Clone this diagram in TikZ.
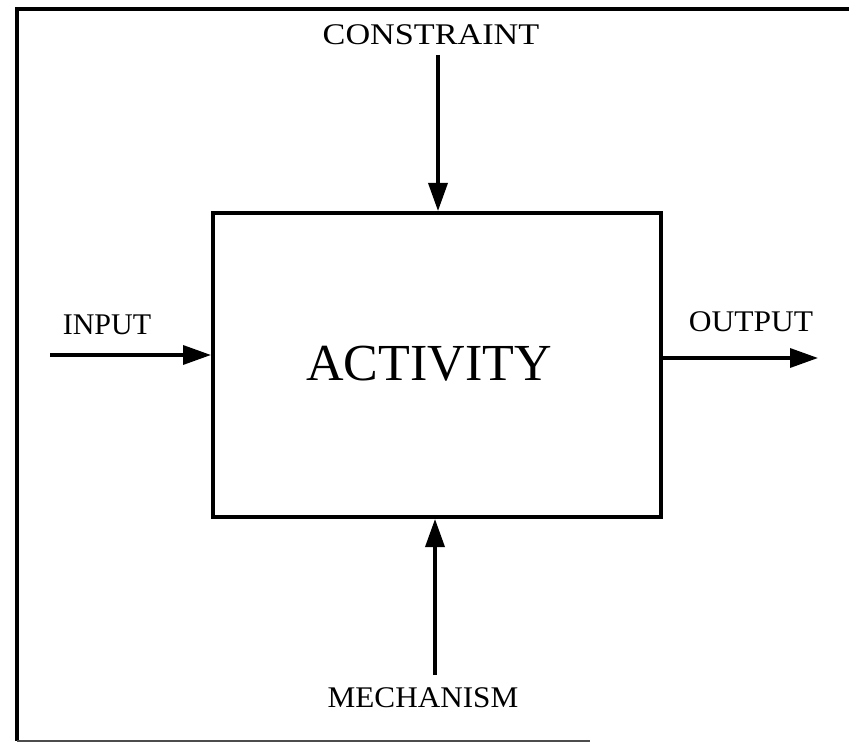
\documentclass[tikz,border=0pt]{standalone}
\usepackage{fontspec}
\setmainfont{Liberation Serif}
\usetikzlibrary{arrows.meta}
\begin{document}
\begin{tikzpicture}[x=1pt,y=-1pt,
  lbl/.style={inner sep=0pt,font=\fontsize{30}{36}\selectfont},
  flow/.style={line width=3.5pt,-{Triangle[length=28pt,width=19pt]}},
  frameline/.style={line width=4pt}]
\useasboundingbox (0,0) rectangle (849,743);
% outer frame
\draw[frameline] (849,9) -- (17,9) -- (17,741);
\draw[line width=2pt,black!70] (17,741) -- (590,741);
% activity box
\node[draw,line width=4pt,minimum width=448pt,minimum height=304pt,inner sep=0pt] (act) at (437,365) {};
\node[inner sep=0pt,font=\fontsize{52}{60}\selectfont] (actl) at (429,364) {ACTIVITY};
% labels
\node[lbl,anchor=base,xscale=1.14] (con) at (431,45) {CONSTRAINT};
\node[lbl,anchor=base] (inp) at (107,335) {INPUT};
\node[lbl,anchor=base,xscale=1.05] (out) at (751,332) {OUTPUT};
\node[lbl,anchor=base,xscale=1.04] (mech) at (423,707) {MECHANISM};
% free ends
\coordinate (cs) at (438,55);
\coordinate (is) at (50,355);
\coordinate (oe) at (818,358);
\coordinate (ms) at (435,675);
\draw[flow] (cs) -- (cs |- act.north);
\draw[flow] (is) -- (is -| act.west);
\draw[flow] (oe -| act.east) -- (oe);
\draw[flow] (ms) -- (ms |- act.south);
\end{tikzpicture}
\end{document}
